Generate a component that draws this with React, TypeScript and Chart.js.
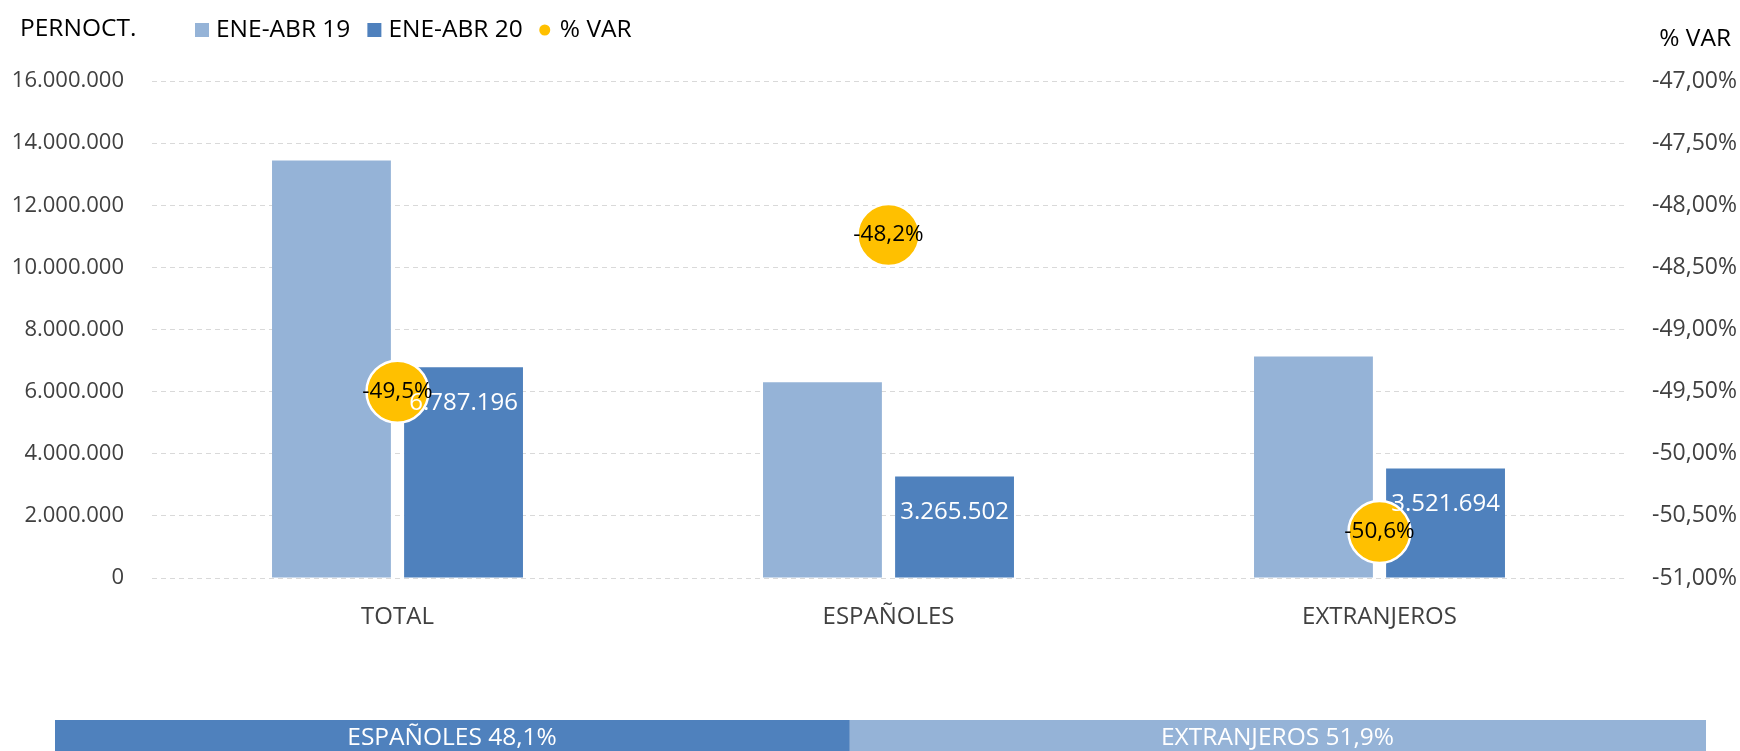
import React, { useEffect, useRef } from "react";
import { Chart, registerables } from "chart.js";

Chart.register(...registerables);

// ---- data ----
const categories = ["TOTAL", "ESPAÑOLES", "EXTRANJEROS"];
const seriesLabels = ["ENE-ABR 19", "ENE-ABR 20", "% VAR"];
const pernoct2019 = [13440000, 6304000, 7130000];
const pernoct2020 = [6787196, 3265502, 3521694];
const varPct = [-49.5, -48.24, -50.63];
const leftAxisTitle = "PERNOCT.";
const rightAxisTitle = "% VAR";
const shareLabels = ["ESPAÑOLES", "EXTRANJEROS"];
const shareValues = [48.1, 51.9];

// ---- styles ----
const LIGHT = "#95B3D7";
const DARK = "#4F81BD";
const YELLOW = "#FFC000";
const GRID = "#D9D9D9";
const TICK = "#404040";
const FONT = "'Open Sans', 'DejaVu Sans', sans-serif";

const fmtThousands = (v: number) =>
  Math.round(v).toString().replace(/\B(?=(\d{3})+(?!\d))/g, ".");
const fmtPct = (v: number, d: number) => v.toFixed(d).replace(".", ",") + "%";

const mainPlugin = {
  id: "mainLabels",
  afterDatasetsDraw(chart: any) {
    const ctx = chart.ctx;
    ctx.save();
    ctx.textAlign = "center";
    ctx.textBaseline = "middle";
    // bar value labels (inside end of ENE-ABR 20 bars)
    ctx.fillStyle = "#FFFFFF";
    ctx.font = `24px ${FONT}`;
    chart.getDatasetMeta(1).data.forEach((el: any, i: number) => {
      ctx.fillText(fmtThousands(pernoct2020[i]), el.x, el.y + 36);
    });
    // % VAR labels on the circles
    ctx.fillStyle = "#000000";
    ctx.font = `22.5px ${FONT}`;
    chart.getDatasetMeta(2).data.forEach((el: any, i: number) => {
      ctx.fillText(fmtPct(varPct[i], 1), el.x, el.y);
    });
    ctx.restore();
  },
  afterDraw(chart: any) {
    const ctx = chart.ctx;
    ctx.save();
    ctx.textBaseline = "middle";
    ctx.fillStyle = "#000000";
    ctx.font = `24.5px ${FONT}`;
    ctx.textAlign = "left";
    ctx.fillText(leftAxisTitle, 20, 29);
    ctx.textAlign = "right";
    ctx.fillText(rightAxisTitle, 1731, 39);
    // legend
    ctx.textAlign = "left";
    let x = 195;
    const y = 30;
    const ds = chart.data.datasets;
    ds.forEach((d: any) => {
      ctx.fillStyle = d.backgroundColor;
      if (d.type === "line") {
        ctx.beginPath();
        ctx.arc(x + 5, y, 5.5, 0, Math.PI * 2);
        ctx.fill();
        x += 20;
      } else {
        ctx.fillRect(x, y - 7, 14, 14);
        x += 21;
      }
      ctx.fillStyle = "#000000";
      ctx.font = `24.5px ${FONT}`;
      ctx.fillText(d.label, x, y);
      x += ctx.measureText(d.label).width + 17;
    });
    ctx.restore();
  },
};

const sharePlugin = {
  id: "shareLabels",
  afterDatasetsDraw(chart: any) {
    const ctx = chart.ctx;
    ctx.save();
    ctx.fillStyle = "#FFFFFF";
    ctx.font = `24.5px ${FONT}`;
    ctx.textAlign = "center";
    ctx.textBaseline = "middle";
    chart.data.datasets.forEach((d: any, i: number) => {
      const el = chart.getDatasetMeta(i).data[0] as any;
      ctx.fillText(
        `${shareLabels[i]} ${fmtPct(shareValues[i], 1)}`,
        (el.x + el.base) / 2,
        el.y
      );
    });
    ctx.restore();
  },
};

export default function App() {
  const mainRef = useRef<HTMLCanvasElement>(null);
  const shareRef = useRef<HTMLCanvasElement>(null);

  useEffect(() => {
    document.body.style.margin = "0";
    const main = new Chart(mainRef.current!, {
      type: "bar",
      data: {
        labels: categories,
        datasets: [
          {
            type: "bar",
            label: seriesLabels[0],
            data: pernoct2019,
            backgroundColor: LIGHT,
            yAxisID: "y",
            order: 1,
            categoryPercentage: 0.538,
            barPercentage: 0.9,
          },
          {
            type: "bar",
            label: seriesLabels[1],
            data: pernoct2020,
            backgroundColor: DARK,
            yAxisID: "y",
            order: 2,
            categoryPercentage: 0.538,
            barPercentage: 0.9,
          },
          {
            type: "line",
            label: seriesLabels[2],
            data: varPct,
            yAxisID: "y1",
            order: 0,
            showLine: false,
            backgroundColor: YELLOW,
            borderColor: YELLOW,
            pointRadius: 31,
            pointHoverRadius: 31,
            pointBackgroundColor: YELLOW,
            pointBorderColor: "#FFFFFF",
            pointBorderWidth: 2.5,
          } as any,
        ],
      },
      options: {
        responsive: false,
        animation: false,
        devicePixelRatio: 1,
        layout: { padding: { top: 81, left: 0, right: 0, bottom: 62 } },
        plugins: { legend: { display: false }, tooltip: { enabled: false } },
        scales: {
          x: {
            grid: { display: false, drawTicks: false },
            border: { display: false },
            ticks: { padding: 25, color: TICK, font: { family: FONT, size: 24 } },
            afterFit: (s: any) => {
              s.height = 60;
            },
          },
          y: {
            position: "left",
            min: 0,
            max: 16000000,
            ticks: {
              stepSize: 2000000,
              padding: 28,
              color: TICK,
              font: { family: FONT, size: 22 },
              callback: (v: any) => fmtThousands(Number(v)),
            },
            grid: { color: GRID, drawTicks: false, lineWidth: 1 },
            border: { display: false, dash: [5, 4] },
            afterFit: (s: any) => {
              s.width = 152;
            },
          },
          y1: {
            position: "right",
            min: -51,
            max: -47,
            ticks: {
              stepSize: 0.5,
              padding: 27,
              color: TICK,
              font: { family: FONT, size: 23 },
              callback: (v: any) => fmtPct(Number(v), 2),
            },
            grid: { display: false, drawTicks: false },
            border: { display: false },
            afterFit: (s: any) => {
              s.width = 115;
            },
          },
        },
      } as any,
      plugins: [mainPlugin],
    });

    const share = new Chart(shareRef.current!, {
      type: "bar",
      data: {
        labels: ["share"],
        datasets: shareLabels.map((l, i) => ({
          label: l,
          data: [shareValues[i]],
          backgroundColor: i === 0 ? DARK : LIGHT,
          categoryPercentage: 1,
          barPercentage: 1,
        })),
      },
      options: {
        indexAxis: "y",
        responsive: false,
        animation: false,
        devicePixelRatio: 1,
        layout: { padding: { left: 55, right: 34, top: 20, bottom: 0 } },
        scales: {
          x: { stacked: true, min: 0, max: 100, display: false },
          y: { stacked: true, display: false },
        },
        plugins: { legend: { display: false }, tooltip: { enabled: false } },
      } as any,
      plugins: [sharePlugin],
    });

    return () => {
      main.destroy();
      share.destroy();
    };
  }, []);

  return (
    <div
      style={{
        position: "relative",
        width: 1740,
        height: 751,
        overflow: "hidden",
        background: "#FFFFFF",
      }}
    >
      <canvas
        ref={mainRef}
        width={1740}
        height={700}
        style={{ position: "absolute", left: 0, top: 0, width: 1740, height: 700 }}
      />
      <canvas
        ref={shareRef}
        width={1740}
        height={56}
        style={{ position: "absolute", left: 0, top: 700, width: 1740, height: 56 }}
      />
    </div>
  );
}
